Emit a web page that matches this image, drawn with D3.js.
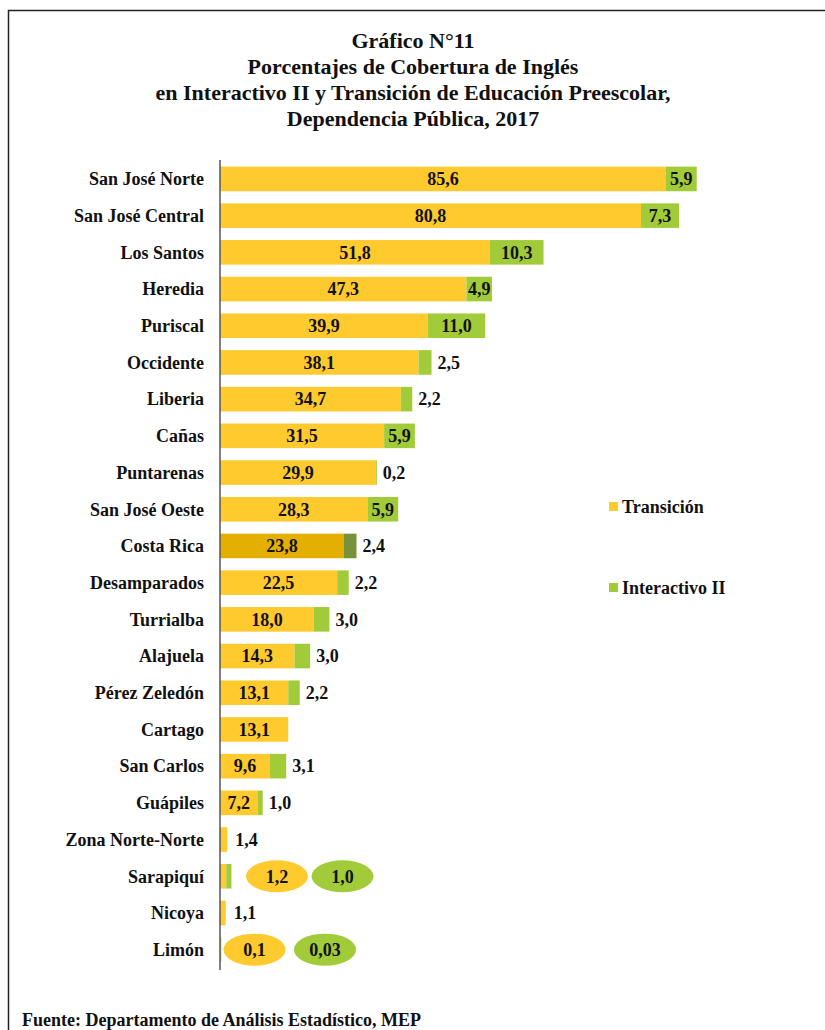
<!DOCTYPE html>
<html>
<head>
<meta charset="utf-8">
<script src="https://cdn.jsdelivr.net/npm/d3@7"></script>
<style>
  body { margin: 0; background: #fff; }
  svg text { font-family: "Liberation Serif", "Times New Roman", serif; font-weight: bold; fill: #111; }
</style>
</head>
<body>
<svg id="chart"></svg>
<script>
// data
const regions = ["San José Norte", "San José Central", "Los Santos", "Heredia", "Puriscal",
  "Occidente", "Liberia", "Cañas", "Puntarenas", "San José Oeste", "Costa Rica",
  "Desamparados", "Turrialba", "Alajuela", "Pérez Zeledón", "Cartago", "San Carlos",
  "Guápiles", "Zona Norte-Norte", "Sarapiquí", "Nicoya", "Limón"];
const transicion = [85.6, 80.8, 51.8, 47.3, 39.9, 38.1, 34.7, 31.5, 29.9, 28.3, 23.8,
  22.5, 18.0, 14.3, 13.1, 13.1, 9.6, 7.2, 1.4, 1.2, 1.1, 0.1];
const interactivo = [5.9, 7.3, 10.3, 4.9, 11.0, 2.5, 2.2, 5.9, 0.2, 5.9, 2.4,
  2.2, 3.0, 3.0, 2.2, 0, 3.1, 1.0, 0, 1.0, 0, 0.03];
const interactivoLabels = ["5,9", "7,3", "10,3", "4,9", "11,0", "2,5", "2,2", "5,9", "0,2", "5,9", "2,4",
  "2,2", "3,0", "3,0", "2,2", "", "3,1", "1,0", "", "1,0", "", "0,03"];
const seriesNames = ["Transición", "Interactivo II"];
const titleLines = ["Gráfico N°11", "Porcentajes de Cobertura de Inglés",
  "en Interactivo II y Transición de Educación Preescolar,", "Dependencia Pública, 2017"];
const source = "Fuente: Departamento de Análisis Estadístico, MEP";
const totalRow = "Costa Rica";
const calloutRows = ["Sarapiquí", "Limón"];

const W = 825, H = 1030;
const colors = {yellow: "#FFCA2E", green: "#A2CB3A", yellowDark: "#E5AF00", greenDark: "#77923A"};

const fmt = v => d3.format(".1f")(v).replace(".", ",");

const svg = d3.select("#chart").attr("width", W).attr("height", H);

// frame (runs off the right and bottom edge)
svg.append("rect")
  .attr("x", 8.5).attr("y", 10.5)
  .attr("width", W + 10).attr("height", H + 10)
  .attr("fill", "none").attr("stroke", "#222").attr("stroke-width", 1.5);

// title
svg.append("g").selectAll("text")
  .data(titleLines)
  .join("text")
    .attr("x", 413)
    .attr("y", (d, i) => 48 + i * 26)
    .attr("text-anchor", "middle")
    .style("font-size", "22px")
    .text(d => d);

const rows = regions.map((r, i) => ({
  name: r, t: transicion[i], g: interactivo[i], gl: interactivoLabels[i],
  total: r === totalRow, callout: calloutRows.includes(r)
}));

const x = d3.scaleLinear().domain([0, 100]).range([220, 741]);
const y = d3.scaleBand().domain(regions).range([160.6, 968]).paddingInner(0.33).paddingOuter(0.165);

// category labels
svg.append("g").selectAll("text")
  .data(rows)
  .join("text")
    .attr("x", 204)
    .attr("y", d => y(d.name) + y.bandwidth() / 2)
    .attr("dy", "0.35em")
    .attr("text-anchor", "end")
    .style("font-size", "18px")
    .text(d => d.name);

const bars = svg.append("g");
bars.selectAll("rect.t")
  .data(rows)
  .join("rect")
    .attr("class", "t")
    .attr("x", x(0))
    .attr("y", d => y(d.name))
    .attr("width", d => x(d.t) - x(0))
    .attr("height", y.bandwidth())
    .attr("fill", d => d.total ? colors.yellowDark : colors.yellow);

bars.selectAll("rect.g")
  .data(rows.filter(d => d.g > 0))
  .join("rect")
    .attr("class", "g")
    .attr("x", d => x(d.t))
    .attr("y", d => y(d.name))
    .attr("width", d => Math.max(x(d.g) - x(0), 0.8))
    .attr("height", y.bandwidth())
    .attr("fill", d => d.total ? colors.greenDark : colors.green);

// axis line
svg.append("line")
  .attr("x1", x(0)).attr("x2", x(0))
  .attr("y1", 160).attr("y2", 970)
  .attr("stroke", "#555").attr("stroke-width", 1.5);

const labels = svg.append("g").style("font-size", "18px");

// transicion values: inside the bar, or just after it for tiny bars
rows.filter(d => !d.callout).forEach(d => {
  const cy = y(d.name) + y.bandwidth() / 2;
  const inside = d.t > 5;
  labels.append("text")
    .attr("x", inside ? (x(0) + x(d.t)) / 2 : x(d.t + d.g) + 8)
    .attr("y", cy).attr("dy", "0.35em")
    .attr("text-anchor", inside ? "middle" : "start")
    .text(fmt(d.t));
  if (d.g > 0) {
    const gIn = d.g >= 4.5;
    labels.append("text")
      .attr("x", gIn ? (x(d.t) + x(d.t + d.g)) / 2 : x(d.t + d.g) + 6)
      .attr("y", cy).attr("dy", "0.35em")
      .attr("text-anchor", gIn ? "middle" : "start")
      .text(d.gl);
  }
});

// callout ellipses for rows whose bars are too thin
const calloutPos = {"Sarapiquí": [277, 342.5], "Limón": [254.5, 325]};
rows.filter(d => d.callout).forEach(d => {
  const cy = y(d.name) + y.bandwidth() / 2;
  const [cx1, cx2] = calloutPos[d.name];
  [[cx1, colors.yellow, fmt(d.t)], [cx2, colors.green, d.gl]].forEach(([cx, c, t]) => {
    labels.append("ellipse")
      .attr("cx", cx).attr("cy", cy)
      .attr("rx", 31).attr("ry", 16)
      .attr("fill", c);
    labels.append("text")
      .attr("x", cx).attr("y", cy).attr("dy", "0.35em")
      .attr("text-anchor", "middle")
      .text(t);
  });
});

// legend
const legend = svg.append("g").style("font-size", "18px");
seriesNames.forEach((s, i) => {
  const ly = 507 + i * 81;
  legend.append("rect")
    .attr("x", 609).attr("y", ly - 5)
    .attr("width", 9).attr("height", 9)
    .attr("fill", i === 0 ? colors.yellow : colors.green);
  legend.append("text")
    .attr("x", 622).attr("y", ly).attr("dy", "0.35em")
    .text(s);
});

// source
svg.append("text")
  .attr("x", 22).attr("y", 1026)
  .style("font-size", "18px")
  .text(source);
</script>
</body>
</html>
